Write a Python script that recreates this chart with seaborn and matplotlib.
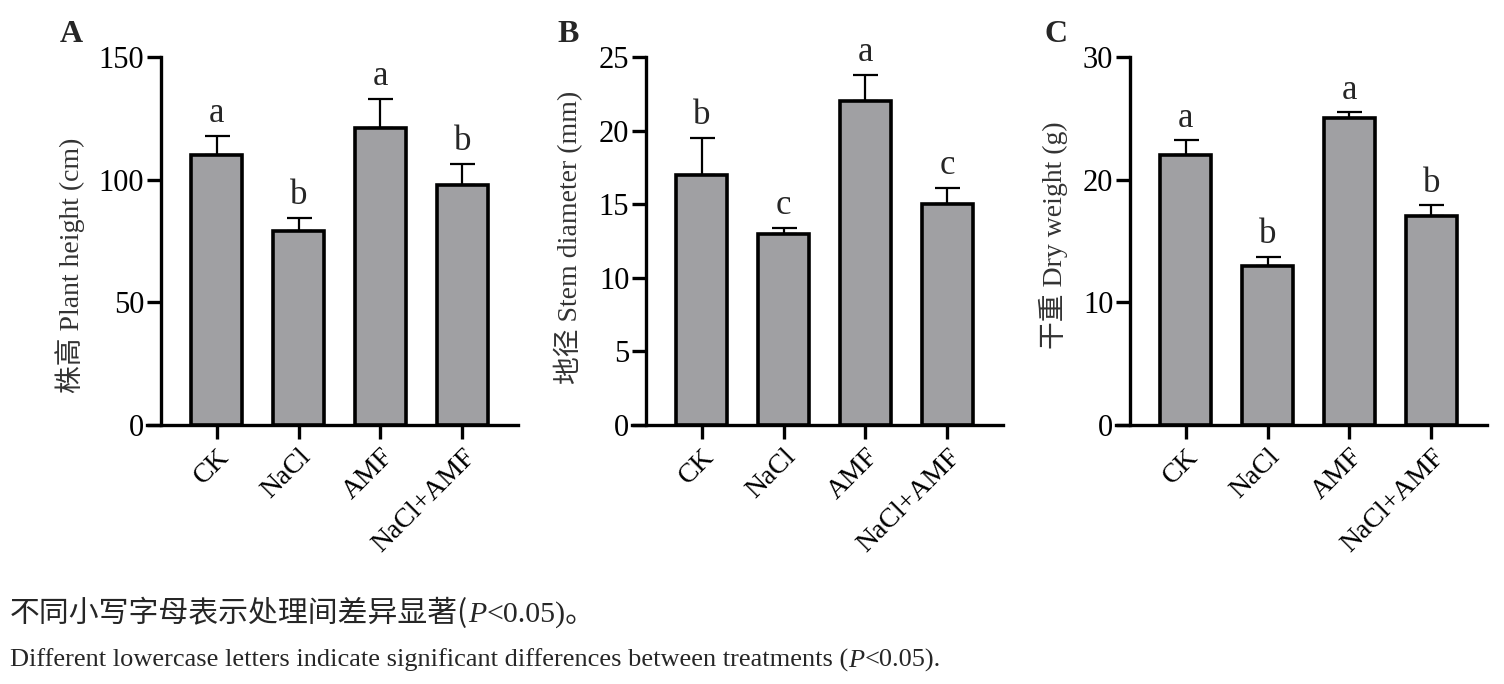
import matplotlib
matplotlib.use('Agg')
import matplotlib.pyplot as plt
import pandas as pd
import seaborn as sns

groups = ['CK', 'NaCl', 'AMF', 'NaCl+AMF']

height_mean = [110, 79, 121, 98]
height_err = [8, 5.5, 12, 8.5]
height_sig = ['a', 'b', 'a', 'b']

diam_mean = [17, 13, 22, 15]
diam_err = [2.5, 0.4, 1.8, 1.1]
diam_sig = ['b', 'c', 'a', 'c']

dry_mean = [22, 13, 25, 17]
dry_err = [1.2, 0.7, 0.5, 0.9]
dry_sig = ['a', 'b', 'a', 'b']

panels = [
    ('A', '株高 Plant height (cm)', height_mean, height_err, height_sig, [0, 50, 100, 150], 150),
    ('B', '地径 Stem diameter (mm)', diam_mean, diam_err, diam_sig, [0, 5, 10, 15, 20, 25], 25),
    ('C', '干重 Dry weight (g)', dry_mean, dry_err, dry_sig, [0, 10, 20, 30], 30),
]

sns.set_theme(style='ticks')
plt.rcParams['font.family'] = ['Liberation Serif', 'Noto Sans CJK SC']
plt.rcParams['axes.linewidth'] = 2.4
plt.rcParams['xtick.major.width'] = 2.4
plt.rcParams['ytick.major.width'] = 2.4
plt.rcParams['xtick.major.size'] = 10
plt.rcParams['ytick.major.size'] = 10
plt.rcParams['xtick.color'] = 'black'
plt.rcParams['ytick.color'] = 'black'
plt.rcParams['axes.edgecolor'] = 'black'

W, H = 1504, 684
fig = plt.figure(figsize=(W / 100, H / 100), dpi=100)

lefts = [147, 632, 1116]
label_pos = [(-0.167, 0.435), (-0.132, 0.51), (-0.129, 0.516)]
letter_x = [60, 557, 1045]

for i, (tag, ylabel, mean, err, sig, yticks, ymax) in enumerate(panels):
    ax = fig.add_axes([lefts[i] / W, (H - 425) / H, 371 / W, 368 / H])
    df = pd.DataFrame({'group': groups, 'value': mean, 'err': err})
    sns.barplot(data=df, x='group', y='value', ax=ax, color='#a0a0a3', saturation=1,
                width=0.63, edgecolor='black', linewidth=2.6, errorbar=None, zorder=3)
    ax.errorbar(range(len(groups)), df['value'], yerr=[[0] * len(groups), df['err']],
                fmt='none', ecolor='black', elinewidth=1.6, capsize=9, capthick=1.6, zorder=2)
    for x, (m, e, s) in enumerate(zip(mean, err, sig)):
        ax.annotate(s, xy=(x, m + e), xytext=(0, 4), textcoords='offset points',
                    ha='center', va='bottom', fontsize=25)

    ax.set_xlim(-0.85, 3.68)
    ax.set_ylim(0, ymax)
    ax.set_yticks(yticks)
    ax.spines['left'].set_position(('data', -0.68))
    ax.spines['top'].set_visible(False)
    ax.spines['right'].set_visible(False)
    ax.tick_params(axis='y', labelsize=22, pad=2)
    ax.tick_params(axis='x', labelsize=20, pad=4)
    ax.set_xticks(range(len(groups)))
    ax.set_xticklabels(groups, rotation=45, ha='right', rotation_mode='anchor')
    ax.set_xlabel('')
    ax.set_ylabel(ylabel, fontsize=20, color='#333333')
    ax.yaxis.set_label_coords(*label_pos[i])
    fig.text(letter_x[i] / W, 1 - 20 / H, tag, fontsize=23, fontweight='bold', va='top', ha='left')

# caption lines, pieces chained so that P can be italic
t1 = fig.text(10 / W, (H - 622) / H, '不同小写字母表示处理间差异显著(', fontsize=21.5,
              family=['Noto Sans CJK SC'], va='baseline')
t2 = fig.text(0, 0, 'P', fontsize=21.5, style='italic', va='baseline')
t3 = fig.text(0, 0, '<0.05)。', fontsize=21.5, family=['Liberation Serif', 'Noto Sans CJK SC'],
              va='baseline')

e1 = fig.text(10 / W, (H - 667) / H,
              'Different lowercase letters indicate significant differences between treatments (',
              fontsize=19, va='baseline')
e2 = fig.text(0, 0, 'P', fontsize=19, style='italic', va='baseline')
e3 = fig.text(0, 0, '<0.05).', fontsize=19, va='baseline')

renderer = fig.canvas.get_renderer()
for chain in ([t1, t2, t3], [e1, e2, e3]):
    x0, y0 = chain[0].get_position()
    for prev, cur in zip(chain[:-1], chain[1:]):
        bb = prev.get_window_extent(renderer)
        cur.set_position((bb.x1 / W, y0))

fig.savefig('out.png', dpi=100)
